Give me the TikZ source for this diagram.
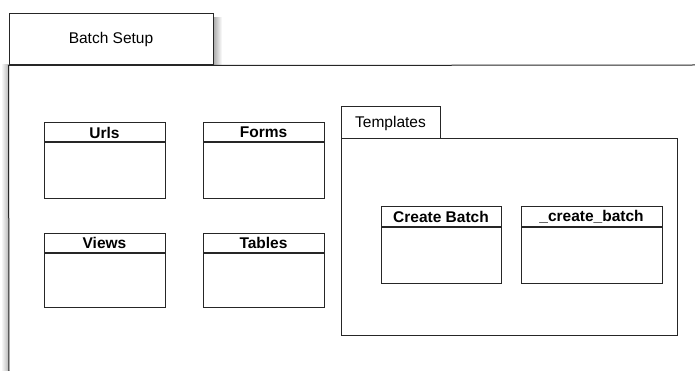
\documentclass[tikz,border=0pt]{standalone}
\usepackage{fontspec}
\setmainfont{Liberation Sans}
\usetikzlibrary{positioning}

\begin{document}
\begin{tikzpicture}[x=1pt,y=-1pt]
     \tikzstyle{tab_style} = [draw=black!85,line width=1pt,fill=white,inner sep=0pt,font=\fontsize{15.5}{18}\selectfont]
     \tikzstyle{head_style} = [draw=black!85,line width=1pt,fill=white,inner sep=0pt,minimum height=19pt,font=\fontsize{15.5}{18}\selectfont\bfseries]
     \tikzstyle{body_style} = [draw=black!85,line width=1pt,fill=white,minimum height=56pt]
     \tikzstyle{frame_style} = [draw=black!85,line width=1pt]
     \useasboundingbox (0,0) rectangle (695,371);
     % soft shadows
     \shade[left color=black!35,right color=white] (213,18) rectangle (222,65);
     \shade[left color=white,right color=black!30] (1,65) rectangle (9,371);
     % outer frame and its tab
     \node[tab_style,minimum width=204pt,minimum height=51pt] (setup) at (111,39.5) {Batch Setup};
     \coordinate (c1) at (9,371);
     \coordinate (c2) at (695,65);
     \draw[frame_style] (c1) -- (setup.south west) -- (setup.south east) -- (c2);
     % classes of the app
     \node[head_style,minimum width=121pt] (urls) at (104.5,132.5) {Urls};
     \node[body_style,minimum width=121pt,below=0pt of urls] (urls_b) {};
     \node[head_style,minimum width=121pt] (forms) at (263.5,132.5) {Forms};
     \node[body_style,minimum width=121pt,below=0pt of forms] (forms_b) {};
     \node[head_style,minimum width=121pt] (views) at (104.5,242.5) {Views};
     \node[body_style,minimum width=121pt,minimum height=54pt,below=0pt of views] (views_b) {};
     \node[head_style,minimum width=121pt] (tables) at (263.5,242.5) {Tables};
     \node[body_style,minimum width=121pt,minimum height=54pt,below=0pt of tables] (tables_b) {};
     % templates package
     \node[tab_style,minimum width=99pt,minimum height=32pt] (tpl) at (390.5,123) {Templates};
     \node[frame_style,minimum width=336pt,minimum height=196pt] (tpl_b) at (509,237) {};
     \node[head_style,minimum width=120pt] (create) at (441,216.5) {Create Batch};
     \node[body_style,minimum width=120pt,below=0pt of create] (create_b) {};
     \node[head_style,minimum width=141pt] (create_p) at (591.5,216.5) {\_create\_batch};
     \node[body_style,minimum width=141pt,below=0pt of create_p] (create_p_b) {};
\end{tikzpicture}
\end{document}
